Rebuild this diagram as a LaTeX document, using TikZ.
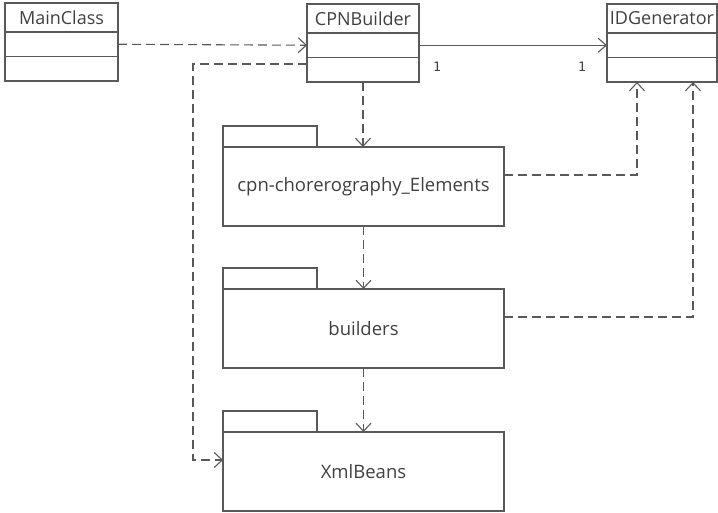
\documentclass[tikz,border=0pt]{standalone}
\usepackage{fontspec}
\setmainfont{Open Sans}
\newfontfamily\multfont{DejaVu Sans Mono}
\usetikzlibrary{arrows.meta,positioning}
\definecolor{umlline}{HTML}{595959}
\definecolor{umltext}{HTML}{404040}

\tikzset{
  box/.style={draw=umlline, line width=1.1pt, inner sep=0pt, outer sep=0pt, text=umltext},
  clshead/.style={box, anchor=north west, minimum height=29pt, font=\fontsize{18}{20}\selectfont},
  pkgbody/.style={box, anchor=north west, minimum width=281pt, minimum height=79pt, font=\fontsize{18.5}{20}\selectfont},
  pkgtab/.style={box, anchor=south west, minimum width=94pt, minimum height=21pt},
  dep/.style={draw=umlline, line width=1.1pt, dash pattern=on 9pt off 5pt, -{Straight Barb[length=8pt,width=15pt]}},
  assoc/.style={draw=umlline, line width=1.1pt, -{Straight Barb[length=8pt,width=14pt]}},
  mult/.style={text=umltext, font=\multfont\fontsize{13}{15}\selectfont}
}

\begin{document}
\begin{tikzpicture}[x=1pt,y=-1pt]
\useasboundingbox (0,0) rectangle (718,513);

% classes
\node[clshead, minimum width=113pt] (mc) at (5,3) {MainClass};
\node[box, below=0pt of mc, minimum width=113pt, minimum height=24.5pt] (mc2) {};
\node[box, below=0pt of mc2, minimum width=113pt, minimum height=24.5pt] (mc3) {};

\node[clshead, minimum width=112pt] (cb) at (307,4) {CPNBuilder};
\node[box, below=0pt of cb, minimum width=112pt, minimum height=24.5pt] (cb2) {};
\node[box, below=0pt of cb2, minimum width=112pt, minimum height=24.5pt] (cb3) {};

\node[clshead, minimum width=110pt] (idg) at (607,4) {IDGenerator};
\node[box, below=0pt of idg, minimum width=110pt, minimum height=24.5pt] (idg2) {};
\node[box, below=0pt of idg2, minimum width=110pt, minimum height=24.5pt] (idg3) {};

% packages
\node[pkgbody] (elem) at (223,147) {cpn-chorerography\_Elements};
\node[pkgtab] (elemtab) at (elem.north west) {};
\node[pkgbody] (bld) at (223,289) {builders};
\node[pkgtab] (bldtab) at (bld.north west) {};
\node[pkgbody] (xb) at (223,432) {XmlBeans};
\node[pkgtab] (xbtab) at (xb.north west) {};

% class relations
\draw[dep] (mc2.east) -- (cb2.west);
\draw[assoc] (cb2.east) -- (idg2.west);
\node[mult] (m1) at (437,67) {1};
\node[mult] (m2) at (582,67) {1};

\coordinate (turn) at (193,64);
\draw[dep] (cb3.west |- turn) -- (turn) |- ([yshift=11.5pt]xb.west);

% package dependencies
\draw[dep] (cb3.south) -- (cb3.south |- elem.north);
\draw[dep] (elem.south) -- (bld.north);
\draw[dep] (bld.south) -- (xb.north);

\coordinate (up1) at (637,0);
\coordinate (up2) at (693,0);
\draw[dep] ([yshift=11.5pt]elem.east) -| (up1 |- idg3.south);
\draw[dep] ([yshift=11.5pt]bld.east) -| (up2 |- idg3.south);
\end{tikzpicture}
\end{document}
